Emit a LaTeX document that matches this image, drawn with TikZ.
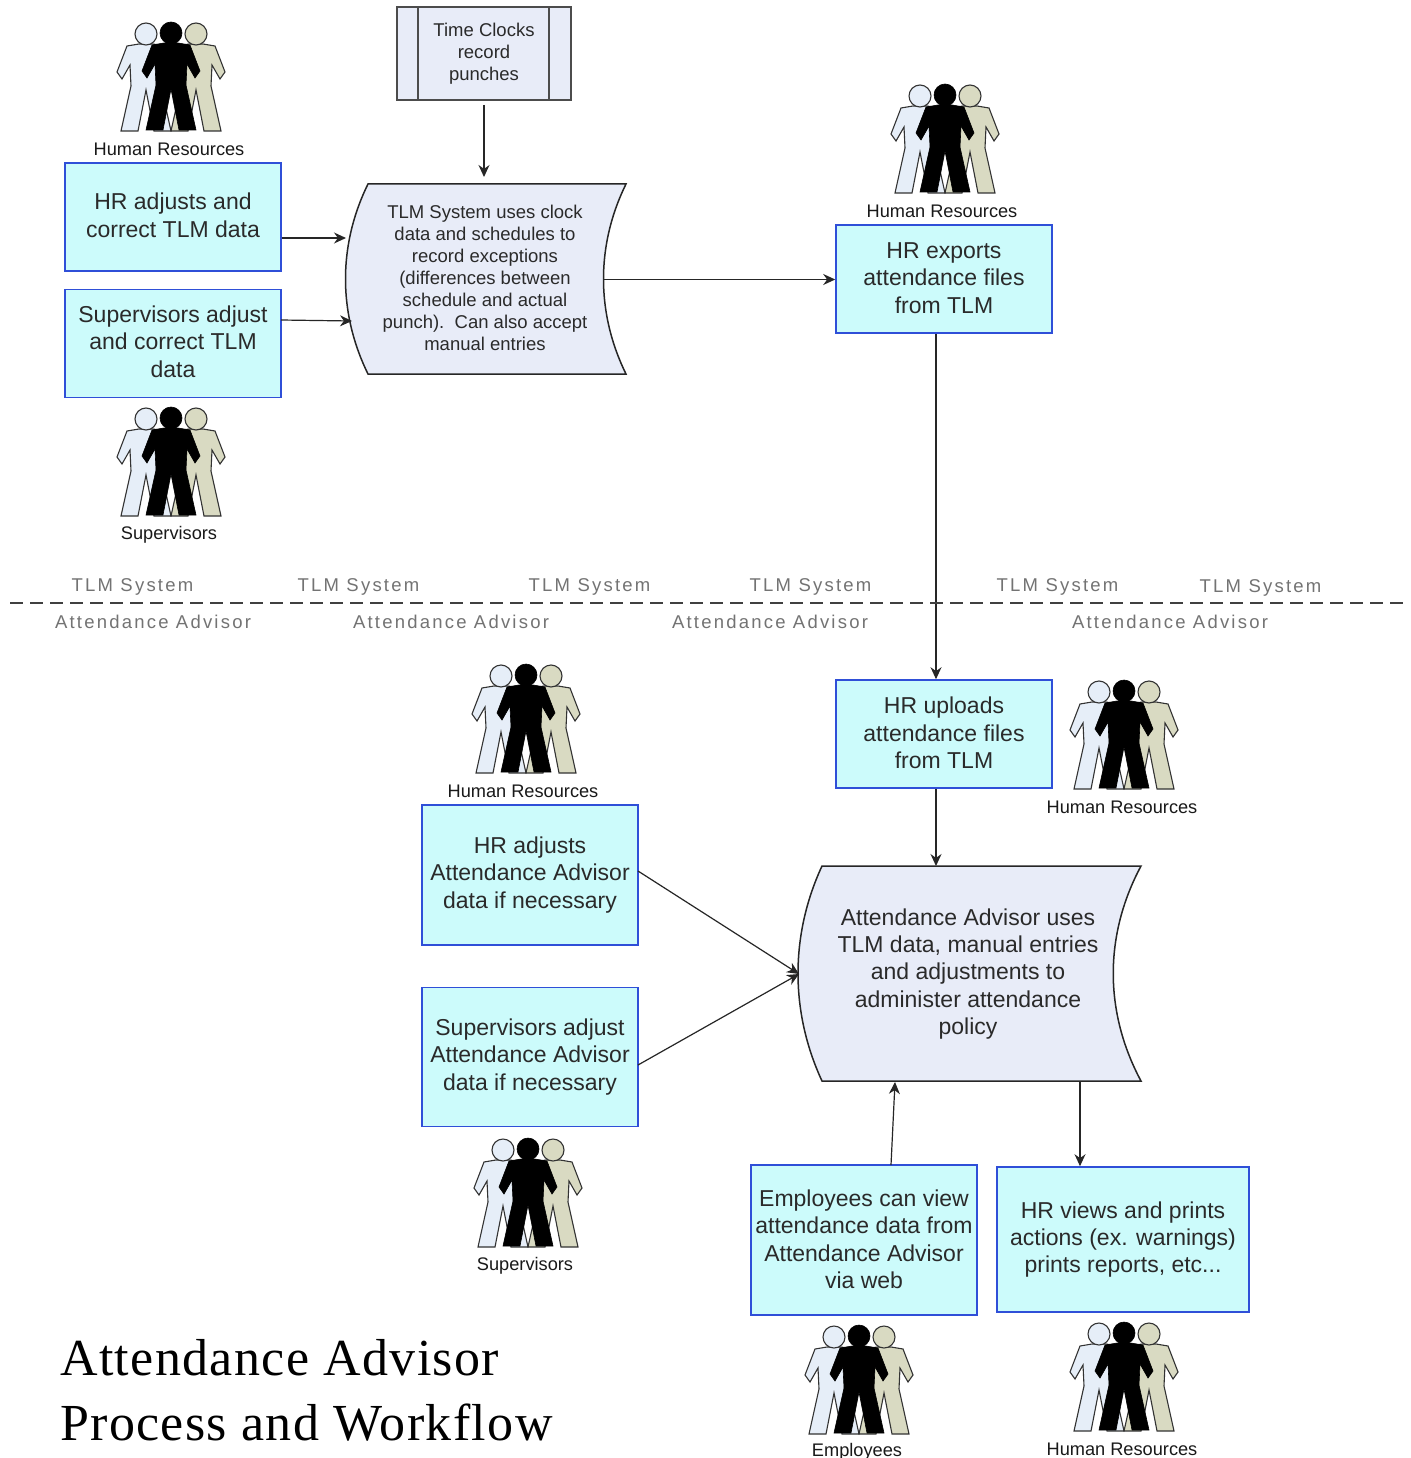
\documentclass[tikz,border=0pt]{standalone}
\usepackage{fontspec}
\setmainfont{Liberation Sans}
\newfontfamily\titlefont[LetterSpace=2.6]{Liberation Serif}
\newfontfamily\zonefont[LetterSpace=12]{Liberation Sans}
\usetikzlibrary{arrows.meta}
\definecolor{boxfill}{HTML}{CCFBFB}
\definecolor{boxline}{HTML}{2F4FD8}
\definecolor{procfill}{HTML}{E8ECF8}
\definecolor{txt}{HTML}{2A2A2A}
\definecolor{manleft}{HTML}{E6EEF8}
\definecolor{manright}{HTML}{D9DAC2}
\newcommand\liftby[1]{\rule[-#1pt]{0pt}{#1pt}}
\tikzset{
  x=1pt,y=-1pt,
  taskbox/.style={draw=boxline,line width=1.6pt,fill=boxfill,text=txt,align=center,inner sep=0pt,
    font=\fontsize{23}{27.4}\selectfont},
  proctext/.style={text=txt,align=center,inner sep=0pt},
  procshape/.style={draw=black!85,line width=1.5pt,fill=procfill},
  flow/.style={draw=black!85,line width=1.2pt,-{Stealth[length=12pt,width=11pt]}},
  rolelabel/.style={text=black!90,inner sep=0pt,font=\fontsize{18.2}{20}\selectfont},
  zonelabel/.style={text=black!55,inner sep=0pt,font=\zonefont\fontsize{18.5}{20}\selectfont},
  maintitle/.style={text=black,anchor=west,inner sep=0pt,font=\titlefont\fontsize{52}{60}\selectfont},
  pics/man/.style={code={
    \path[pic actions]
      (-7,10) -- (-19,12) -- (-29,38) -- (-24,45) -- (-16,31) -- (-15,52) -- (-25,97) -- (-8,97)
      -- (0,56) -- (8,97) -- (25,97) -- (15,52) -- (16,31) -- (24,45) -- (29,38) -- (19,12) -- (7,10) -- cycle;
    \path[pic actions] (0,0) circle[radius=11];
  }},
  pics/people/.style={code={
    \pic[draw=black!80,line width=1.1pt,fill=manleft] at (-25,1) {man};
    \pic[draw=black!80,line width=1.1pt,fill=manright] at (25,1) {man};
    \pic[draw=black,line width=.6pt,fill=black] at (0,0) {man};
  }}
}
\begin{document}
\begin{tikzpicture}
\useasboundingbox (0,0) rectangle (1410,1458);
\fill[white] (0,0) rectangle (1410,1458);

% people
\pic at (171,33) {people};
\pic at (171,418) {people};
\pic at (945,95) {people};
\pic at (526,675) {people};
\pic at (1124,691) {people};
\pic at (528,1149) {people};
\pic at (859,1336) {people};
\pic at (1124,1333) {people};
\node[rolelabel] (r1) at (169,149) {Human Resources};
\node[rolelabel] (r2) at (169,535) {Supervisors};
\node[rolelabel] (r3) at (942,211) {Human Resources};
\node[rolelabel] (r4) at (523,791) {Human Resources};
\node[rolelabel] (r5) at (1122,807) {Human Resources};
\node[rolelabel] (r6) at (525,1266) {Supervisors};
\node[rolelabel] (r7) at (857,1452) {Employees};
\node[rolelabel] (r8) at (1122,1449) {Human Resources};

% time clocks
\node[draw=black!70,line width=1.1pt,fill=procfill,minimum width=174pt,minimum height=93pt,inner sep=0pt,
      text=txt,align=center,font=\fontsize{18.5}{22}\selectfont] (clock) at (484,53.5)
      {Time Clocks\\record\\punches};
\draw[black!70,line width=1.1pt] (418,7) -- (418,100) (549,7) -- (549,100);

% process shapes
\draw[procshape] (368,184) -- (626,184) .. controls (596,245) and (596,313) .. (626,374)
  -- (368,374) .. controls (338,313) and (338,245) .. (368,184) -- cycle;
\node[proctext,font=\fontsize{18.5}{21.9}\selectfont] (tlm) at (485,278)
  {TLM System uses clock\\data and schedules to\\record exceptions\\(differences between\\schedule and actual\\punch).\ \ Can also accept\\manual entries};
\draw[procshape] (822,866) -- (1141,866) .. controls (1104,935) and (1104,1012) .. (1141,1081)
  -- (822,1081) .. controls (790,1012) and (790,935) .. (822,866) -- cycle;
\node[proctext,font=\fontsize{23}{27.4}\selectfont] (aa) at (968,974)
  {Attendance Advisor uses\\TLM data, manual entries\\and adjustments to\\administer attendance\\policy};

% task boxes
\node[taskbox,minimum width=216pt,minimum height=108pt] (hradj) at (173,217) {HR adjusts and\\correct TLM data\liftby{4}};
\node[taskbox,minimum width=216pt,minimum height=108pt] (supadj) at (173,343.5) {Supervisors adjust\\and correct TLM\\data\liftby{4}};
\node[taskbox,minimum width=216pt,minimum height=108pt] (export) at (944,279) {HR exports\\attendance files\\from TLM\liftby{2}};
\node[taskbox,minimum width=216pt,minimum height=108pt] (upload) at (944,734) {HR uploads\\attendance files\\from TLM\liftby{2}};
\node[taskbox,minimum width=216pt,minimum height=140pt] (hraa) at (530,875) {HR adjusts\\Attendance Advisor\\data if necessary};
\node[taskbox,minimum width=216pt,minimum height=139pt] (supaa) at (530,1057) {Supervisors adjust\\Attendance Advisor\\data if necessary};
\node[taskbox,minimum width=226pt,minimum height=150pt] (emp) at (864,1240) {Employees can view\\attendance data from\\Attendance Advisor\\via web\liftby{2}};
\node[taskbox,minimum width=252pt,minimum height=145pt] (views) at (1123,1239.5) {HR views and prints\\actions (ex. warnings)\\prints reports, etc...\liftby{4}};

% connector ends
\coordinate (clockin) at (484,177);
\coordinate (tlmin1) at (346,238);
\coordinate (tlmin2) at (352,321);
\coordinate (tlmout) at (603,279.5);
\coordinate (aain) at (799,974);
\coordinate (aatop) at (936,866);
\coordinate (aaup) at (895,1082);
\coordinate (aadown) at (1080,1081);

\draw[flow] (484,105) -- (clockin);
\draw[flow] (hradj.east |- tlmin1) -- (tlmin1);
\draw[flow] (281,320) -- (tlmin2);
\draw[flow] (tlmout) -- (tlmout -| export.west);
\draw[flow] (aatop |- export.south) -- (aatop |- upload.north);
\draw[flow] (aatop |- upload.south) -- (aatop);
\draw[flow] (638,871) -- (aain);
\draw[flow] (638,1065) -- (aain);
\draw[flow] (891,1165) -- (aaup);
\draw[flow] (aadown) -- (aadown |- views.north);

% divider
\draw[black!75,line width=1.1pt,dash pattern=on 13pt off 7pt] (10,603) -- (1405,603);
\node[zonelabel] (t1) at (132.5,587) {TLM System};
\node[zonelabel] (t2) at (358.5,587) {TLM System};
\node[zonelabel] (t3) at (589.5,587) {TLM System};
\node[zonelabel] (t4) at (810.5,587) {TLM System};
\node[zonelabel] (t5) at (1057.5,587) {TLM System};
\node[zonelabel] (t6) at (1260.5,588) {TLM System};
\node[zonelabel] (a1) at (153,622) {Attendance Advisor};
\node[zonelabel] (a2) at (451,622) {Attendance Advisor};
\node[zonelabel] (a3) at (770,622) {Attendance Advisor};
\node[zonelabel] (a4) at (1170,622) {Attendance Advisor};

% title
\node[maintitle] (title1) at (60,1358) {Attendance Advisor};
\node[maintitle] (title2) at (60,1423) {Process and Workflow};
\end{tikzpicture}
\end{document}
